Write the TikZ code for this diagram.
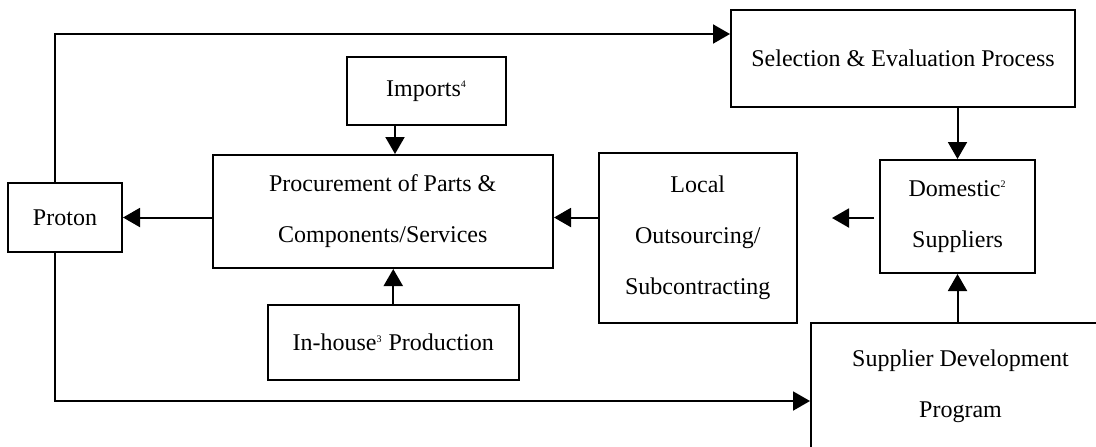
\documentclass[tikz,border=0pt]{standalone}
\usepackage{fontspec}
\setmainfont{Liberation Serif}
\usetikzlibrary{arrows.meta}
\usetikzlibrary{positioning}

\begin{document}
\begin{tikzpicture}[
    x=0.5pt, y=-0.5pt,
    box/.style={rectangle, draw, line width=1pt, inner sep=0pt, align=center,
                font=\fontsize{12}{25.5}\selectfont},
    arr/.style={line width=1pt, -{Triangle[length=8.5pt, width=9.5pt]}},
    >=stealth
]
\clip (0,0) rectangle (1096,446);

% --- Boxes ---
\node[box, minimum width=57pt, minimum height=34.5pt] (proton) at (65,217.5) {Proton};
\node[box, minimum width=79.5pt, minimum height=34pt] (imports) at (426.5,91) {Imports\textsuperscript{\tiny 4}};
\node[box, minimum width=170.25pt, minimum height=56.5pt] (proc) at (382.75,211.5)
    {Procurement of Parts \&\\Components/Services};
\node[box, minimum width=125.75pt, minimum height=37.5pt] (inhouse) at (393.25,342.5)
    {In-house\textsuperscript{\tiny 3} Production};
\node[box, minimum width=99.25pt, minimum height=85pt] (local) at (697.75,238)
    {Local\\Outsourcing/\\Subcontracting};
\node[box, minimum width=172pt, minimum height=48.5pt] (select) at (903,58.5)
    {Selection \& Evaluation Process};
\node[box, minimum width=77.5pt, minimum height=56.5pt] (dom) at (957.5,216.5)
    {Domestic\textsuperscript{\tiny 2}\\Suppliers};
\node[box, minimum width=149.5pt, minimum height=63.5pt] (sdp) at (960.5,386.5)
    {Supplier Development\\Program};

% --- Helper points ---
\coordinate (looptop) at (55,34);
\coordinate (loopbot) at (55,401);
\coordinate (impx) at (395,0);
\coordinate (domtip) at (832,218);

% --- Proton feedback loops ---
\draw[arr] (proton.north -| looptop) |- (select.west |- looptop);
\draw[arr] (proton.south -| loopbot) |- (sdp.west |- loopbot);

% --- Into procurement ---
\draw[arr] (imports.south -| impx) -- (proc.north -| impx);
\draw[arr] (inhouse.north) -- (proc.south -| inhouse.north);
\draw[arr] (proc.west |- proton.east) -- (proton.east);
\draw[arr] (local.west |- proton.east) -- (proc.east |- proton.east);

% --- Supplier side ---
\draw[arr] (select.south -| dom) -- (dom.north);
\draw[arr] (sdp.north -| dom) -- (dom.south);
\draw[arr, shorten <=2.5pt] (dom.west |- domtip) -- (domtip);

\end{tikzpicture}
\end{document}
